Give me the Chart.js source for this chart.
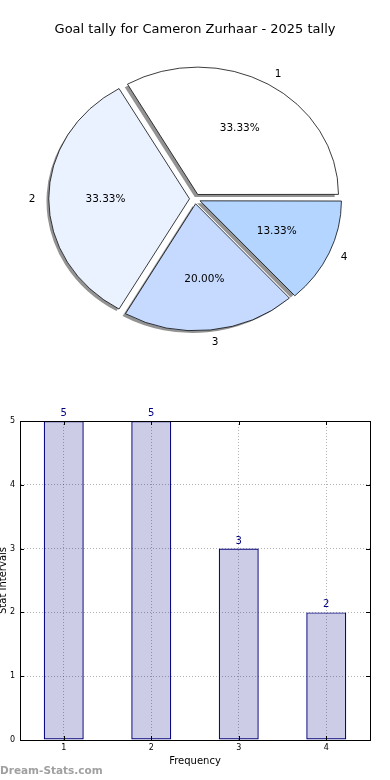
<!DOCTYPE html>
<html><head><meta charset="utf-8">
<script src="https://cdn.jsdelivr.net/npm/chart.js@4"></script>
<style>
html,body{margin:0;padding:0;background:#fff;width:390px;height:780px;overflow:hidden;}
#pie{position:absolute;left:0;top:0;}
#bar{position:absolute;left:0;top:390px;}
#wm{position:absolute;left:0;top:762px;font:bold 10.5px "DejaVu Sans";color:#a0a0a0;line-height:16px;}
</style></head><body>
<canvas id="pie" width="390" height="390"></canvas>
<canvas id="bar" width="390" height="390"></canvas>
<div id="wm">Dream-Stats.com</div>
<script>
const chartTitle = 'Goal tally for Cameron Zurhaar - 2025 tally';
const categories = ['1', '2', '3', '4'];
const goalCounts = [5, 5, 3, 2];
const sliceColors = ['#ffffff', '#ebf2ff', '#c6d9ff', '#b3d5ff'];
const yTicks = [0, 1, 2, 3, 4, 5];
const xAxisTitle = 'Frequency';
const yAxisTitle = 'Stat Intervals';

const FONT = '"DejaVu Sans", sans-serif';
const Y_RATIO = 0.905;

function arcGeom(arc) {
  const mid = (arc.startAngle + arc.endAngle) / 2;
  const off = (arc.options.offset || 0) / 4;
  return { mid, c: Math.cos(mid), s: Math.sin(mid), off };
}

const pieShape = {
  id: 'pieShape',
  beforeDatasetsDraw(chart) {
    const meta = chart.getDatasetMeta(0);
    const a = meta.data[0];
    const ctx = chart.ctx;
    // shadows (drawn under all wedges)
    ctx.save();
    ctx.translate(-3, 2.5);
    ctx.translate(a.x, a.y);
    ctx.scale(1, -Y_RATIO);
    ctx.translate(-a.x, -a.y);
    ctx.filter = 'blur(0.6px)';
    ctx.fillStyle = 'rgba(40,40,40,0.5)';
    meta.data.forEach(arc => {
      const g = arcGeom(arc);
      const cx = arc.x + g.off * g.c, cy = arc.y + g.off * g.s;
      ctx.beginPath();
      ctx.moveTo(cx, cy);
      ctx.arc(cx, cy, arc.outerRadius, arc.startAngle, arc.endAngle);
      ctx.closePath();
      ctx.fill();
    });
    ctx.restore();
    // wedges: ellipse + counter-clockwise orientation
    ctx.save();
    ctx.translate(a.x, a.y);
    ctx.scale(1, -Y_RATIO);
    ctx.translate(-a.x, -a.y);
  },
  afterDatasetsDraw(chart) {
    const ctx = chart.ctx;
    ctx.restore();
    const meta = chart.getDatasetMeta(0);
    const total = goalCounts.reduce((s, v) => s + v, 0);
    ctx.save();
    ctx.font = '10.5px ' + FONT;
    ctx.fillStyle = '#000';
    ctx.textBaseline = 'middle';
    meta.data.forEach((arc, i) => {
      const g = arcGeom(arc);
      const ex = arc.x + g.off * g.c, ey = arc.y - Y_RATIO * g.off * g.s;
      const R = arc.outerRadius;
      ctx.textAlign = g.c > 0 ? 'left' : 'right';
      ctx.fillText(categories[i], ex + 1.1 * R * g.c, ey - Y_RATIO * 1.1 * R * g.s);
      ctx.textAlign = 'center';
      ctx.fillText((goalCounts[i] / total * 100).toFixed(2) + '%', ex + 0.6 * R * g.c, ey - Y_RATIO * 0.6 * R * g.s);
    });
    ctx.restore();
  }
};

new Chart(document.getElementById('pie'), {
  type: 'pie',
  data: {
    labels: categories,
    datasets: [{
      data: goalCounts,
      backgroundColor: sliceColors,
      borderColor: '#000',
      borderWidth: 0.8,
      offset: 22
    }]
  },
  options: {
    responsive: false,
    animation: false,
    devicePixelRatio: 1,
    rotation: 90,
    radius: 140,
    layout: { padding: { top: 0, right: 0, left: 0, bottom: 30 } },
    plugins: {
      legend: { display: false },
      tooltip: { enabled: false },
      title: {
        display: true,
        text: chartTitle,
        color: '#000',
        font: { family: FONT, size: 13, weight: 'normal', lineHeight: 1.2 },
        padding: { top: 22, bottom: 0 }
      }
    }
  },
  plugins: [pieShape]
});

const frame = {
  id: 'frame',
  afterDraw(chart) {
    const { ctx, chartArea: a } = chart;
    const xs = chart.scales.x, ys = chart.scales.y;
    ctx.save();
    ctx.strokeStyle = '#000';
    ctx.lineWidth = 1;
    ctx.beginPath();
    for (let i = 0; i < xs.ticks.length; i++) {
      const x = Math.round(xs.getPixelForTick(i)) + 0.5;
      ctx.moveTo(x, a.bottom); ctx.lineTo(x, a.bottom - 4);
      ctx.moveTo(x, a.top); ctx.lineTo(x, a.top + 4);
    }
    for (let i = 0; i < ys.ticks.length; i++) {
      const y = Math.round(ys.getPixelForTick(i)) + 0.5;
      ctx.moveTo(a.left, y); ctx.lineTo(a.left + 4, y);
      ctx.moveTo(a.right, y); ctx.lineTo(a.right - 4, y);
    }
    ctx.stroke();
    ctx.strokeRect(Math.round(a.left) + 0.5, Math.round(a.top) + 0.5, Math.round(a.right - a.left), Math.round(a.bottom - a.top));
    ctx.restore();
  }
};

const barValues = {
  id: 'barValues',
  afterDatasetsDraw(chart) {
    const ctx = chart.ctx;
    const meta = chart.getDatasetMeta(0);
    ctx.save();
    ctx.font = '10px ' + FONT;
    ctx.fillStyle = '#000080';
    ctx.textAlign = 'center';
    ctx.textBaseline = 'alphabetic';
    meta.data.forEach((bar, i) => {
      ctx.fillText(String(goalCounts[i]), bar.x, bar.y - 5);
    });
    ctx.restore();
  }
};

new Chart(document.getElementById('bar'), {
  type: 'bar',
  data: {
    labels: categories,
    datasets: [{
      data: goalCounts,
      backgroundColor: 'rgba(0,0,128,0.2)',
      borderColor: '#00007a',
      borderWidth: 1.2,
      borderSkipped: false,
      barPercentage: 0.457,
      categoryPercentage: 1
    }]
  },
  options: {
    responsive: false,
    animation: false,
    devicePixelRatio: 1,
    layout: { padding: { top: 31, right: 20, left: 0, bottom: 0 } },
    plugins: { legend: { display: false }, tooltip: { enabled: false } },
    scales: {
      x: {
        grid: { offset: false, color: 'rgba(0,0,0,0.3)', drawTicks: false, lineWidth: 1 },
        border: { color: '#000', width: 1, dash: [1, 2] },
        ticks: { color: '#000', font: { family: FONT, size: 8 }, padding: 3 },
        title: { display: true, text: xAxisTitle, color: '#000', font: { family: FONT, size: 10, lineHeight: 1.2 }, padding: { top: 0, bottom: 13 } },
        afterFit(s) { s.height = 40; }
      },
      y: {
        min: yTicks[0],
        max: yTicks[yTicks.length - 1],
        afterBuildTicks(s) { s.ticks = yTicks.map(v => ({ value: v })); },
        grid: { color: 'rgba(0,0,0,0.3)', drawTicks: false, lineWidth: 1 },
        border: { color: '#000', width: 1, dash: [1, 2] },
        ticks: { color: '#000', font: { family: FONT, size: 8 }, padding: 5 },
        title: { display: true, text: yAxisTitle, color: '#000', font: { family: FONT, size: 10, lineHeight: 1.2 }, padding: { top: -3, bottom: 0 } },
        afterFit(s) { s.width = 20; }
      }
    }
  },
  plugins: [frame, barValues]
});
</script>
</body></html>
